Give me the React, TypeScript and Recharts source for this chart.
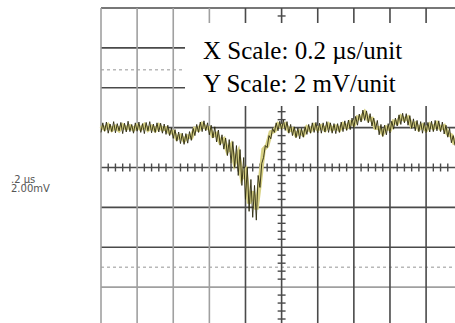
import { LineChart, Line, XAxis, YAxis, ReferenceLine } from "recharts";

// samples every 0.05 division across the screen
const sampleCount = 197;

// yellow trace (one value every 0.1 div), in divisions from the centre line
const yellowTrace = [
  1.04, 0.97, 1.06, 0.95, 1.02, 0.94, 1.05, 0.98, 1.03, 0.96,
  1.04, 0.97, 1.06, 0.95, 1.02, 0.94, 1.05, 0.96, 0.98, 0.88,
  0.89, 0.73, 0.79, 0.68, 0.78, 0.76, 0.97, 0.95, 1.08, 1.0,
  0.99, 0.8, 0.84, 0.64, 0.7, 0.42, 0.55, 0.12, 0.35, -0.25,
  -0.1, -0.9, -0.6, -1.05, -0.35, 0.45, 0.55, 0.88, 0.92, 1.08,
  1.02, 1.08, 0.93, 0.96, 0.82, 0.9, 0.83, 1.0, 0.93, 1.05,
  0.96, 1.03, 0.95, 1.07, 0.96, 1.02, 0.95, 1.08, 1.01, 1.13,
  1.08, 1.25, 1.23, 1.37, 1.21, 1.22, 1.0, 0.99, 0.86, 1.0,
  0.96, 1.15, 1.12, 1.27, 1.2, 1.25, 1.05, 1.1, 0.97, 1.05,
  0.95, 1.07, 0.99, 1.1, 0.98, 1.03, 0.85, 0.8, 0.58,
];

// black noise (one value every 0.05 div)
const blackTrace = [
  0.88, 1.12, 0.91, 1.14, 0.86, 1.09, 0.9, 1.15, 0.87, 1.1,
  0.92, 1.13, 0.85, 1.11, 0.89, 1.16, 0.9, 1.08, 0.86, 1.12,
  0.91, 1.14, 0.88, 1.1, 0.85, 1.13, 0.92, 1.15, 0.87, 1.09,
  0.88, 1.12, 0.89, 1.11, 0.86, 1.09, 0.83, 1.06, 0.8, 0.99,
  0.73, 0.95, 0.66, 0.89, 0.6, 0.86, 0.58, 0.85, 0.61, 0.9,
  0.68, 0.98, 0.8, 1.08, 0.88, 1.14, 0.9, 1.17, 0.92, 1.12,
  0.82, 1.06, 0.74, 1.02, 0.64, 0.94, 0.56, 0.82, 0.46, 0.74,
  0.3, 0.7, 0.1, 0.65, 0.0, 0.55, -0.2, 0.45, -0.45, 0.25,
  -0.8, 0.0, -1.1, -0.3, -1.25, -0.45, -1.32, -0.2, -0.5, 0.1,
  0.25, 0.55, 0.5, 0.8, 0.72, 0.98, 0.88, 1.12, 0.92, 1.16,
  0.95, 1.19, 0.93, 1.15, 0.86, 1.08, 0.8, 1.02, 0.75, 0.99,
  0.72, 0.98, 0.76, 1.02, 0.83, 1.08, 0.86, 1.12, 0.88, 1.13,
  0.87, 1.11, 0.86, 1.12, 0.89, 1.15, 0.88, 1.12, 0.86, 1.1,
  0.85, 1.1, 0.88, 1.14, 0.9, 1.17, 0.93, 1.19, 0.95, 1.24,
  1.0, 1.28, 1.06, 1.34, 1.14, 1.44, 1.18, 1.42, 1.12, 1.35,
  1.04, 1.24, 0.96, 1.18, 0.82, 1.08, 0.78, 1.06, 0.82, 1.1,
  0.87, 1.16, 0.96, 1.24, 1.04, 1.32, 1.08, 1.36, 1.12, 1.35,
  1.06, 1.3, 0.98, 1.22, 0.92, 1.18, 0.9, 1.15, 0.86, 1.13,
  0.87, 1.13, 0.89, 1.16, 0.9, 1.18, 0.92, 1.17, 0.9, 1.14,
  0.84, 1.06, 0.76, 0.98, 0.62, 0.8, 0.55,
];

const verticalGrid = [0, 1, 2, 3, 4, 5, 6, 7, 8, 9];
const horizontalGrid = [4, 3, 2, 1, 0, -1, -2, -3];
const dottedLevels = [2.45, -2.5];
const lightVertical = [0, 1, 2, 3];
const lightHorizontal = [-3];

const data = Array.from({ length: sampleCount }, (_, i) => ({
  t: i / 20,
  yellow: i % 2 === 0 ? yellowTrace[i / 2] : null,
  black: blackTrace[i],
}));

const xMinor: number[] = [];
for (let k = 1; k < 49; k++) if (k % 5 !== 0) xMinor.push(k / 5);
const yMinor: number[] = [];
for (let k = -19; k < 20; k++) if (k % 5 !== 0) yMinor.push(k / 5);

const dark = "#4a4a4a";
const light = "#a0a0a0";

const scaleText = {
  position: "absolute" as const,
  left: 203,
  fontFamily: "'Liberation Serif', serif",
  fontSize: 25,
  lineHeight: "28px",
  whiteSpace: "nowrap" as const,
  color: "#000",
};

export default function App() {
  return (
    <div
      style={{
        position: "fixed",
        left: 0,
        top: 0,
        width: 455,
        height: 323,
        overflow: "hidden",
        background: "#fff",
      }}
    >
      <LineChart
        width={455}
        height={323}
        data={data}
        margin={{ top: 8, right: 0, left: 101, bottom: 0 }}
      >
        <XAxis dataKey="t" type="number" domain={[0, 9.78]} hide />
        <YAxis type="number" domain={[-3.9, 4]} hide />
        {dottedLevels.map((v) => (
          <ReferenceLine key={"d" + v} y={v} stroke="#b8b8b8" strokeWidth={1.5} strokeDasharray="3 3" />
        ))}
        {horizontalGrid.map((v) => (
          <ReferenceLine
            key={"h" + v}
            y={v}
            stroke={lightHorizontal.includes(v) ? light : dark}
            strokeWidth={1.6}
          />
        ))}
        {verticalGrid.map((v) => (
          <ReferenceLine
            key={"v" + v}
            x={v}
            stroke={lightVertical.includes(v) ? light : dark}
            strokeWidth={1.6}
          />
        ))}
        {xMinor.map((v) => (
          <ReferenceLine
            key={"xm" + v}
            segment={[{ x: v, y: -0.1 }, { x: v, y: 0.1 }]}
            stroke={dark}
            strokeWidth={1.4}
          />
        ))}
        {yMinor.map((v) => (
          <ReferenceLine
            key={"ym" + v}
            segment={[{ x: 4.89, y: v }, { x: 5.11, y: v }]}
            stroke={dark}
            strokeWidth={1.4}
          />
        ))}
        <Line
          dataKey="yellow"
          stroke="#d8d286"
          strokeWidth={4.5}
          dot={false}
          connectNulls
          isAnimationActive={false}
        />
        <Line
          dataKey="black"
          stroke="#2e2b10"
          strokeWidth={0.9}
          dot={false}
          isAnimationActive={false}
        />
      </LineChart>
      <div
        style={{
          position: "absolute",
          left: 185,
          top: 23,
          width: 270,
          height: 83,
          background: "#fff",
        }}
      />
      <div style={{ ...scaleText, top: 37 }}>X Scale: 0.2 µs/unit</div>
      <div style={{ ...scaleText, top: 70 }}>Y Scale: 2 mV/unit</div>
      <div
        style={{
          position: "absolute",
          left: 11,
          top: 175,
          fontFamily: "'DejaVu Sans', sans-serif",
          fontSize: 10,
          lineHeight: "9px",
          color: "#555",
          whiteSpace: "pre",
        }}
      >
        {".2 µs\n2.00mV"}
      </div>
    </div>
  );
}
